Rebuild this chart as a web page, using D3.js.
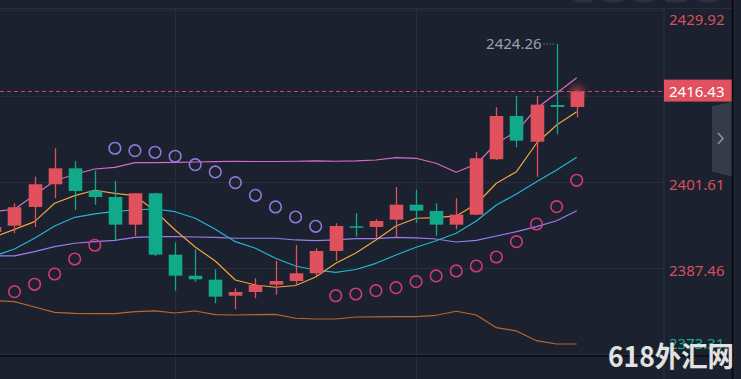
<!DOCTYPE html>
<html>
<head>
<meta charset="utf-8">
<script src="https://cdn.jsdelivr.net/npm/d3@7"></script>
<style>
html,body{margin:0;padding:0;background:#1b212e;overflow:hidden;}
svg{display:block;}
</style>
</head>
<body>
<svg id="chart" width="741" height="379"></svg>
<script>
// ---------- DATA ----------
const candleIndex = d3.range(30);
const opens  = [2393.33,2394.37,2397.45,2401.18,2403.81,2400.13,2399.09,2394.54,2399.70,2389.60,
                2386.14,2385.49,2382.85,2383.46,2384.66,2385.27,2386.54,2390.21,2394.27,2394.16,
                2395.36,2397.83,2396.79,2394.54,2396.18,2405.30,2412.42,2408.19,2414.23,2413.90];
const highs  = [2394.60,2398.06,2402.43,2407.11,2405.02,2403.42,2401.72,2399.75,2399.80,2391.64,
                2390.49,2387.20,2384.07,2385.72,2388.61,2391.20,2390.65,2394.77,2396.41,2395.42,
                2400.74,2400.29,2398.06,2398.88,2406.45,2413.85,2415.71,2415.71,2424.26,2416.60];
const lows   = [2392.90,2393.12,2394.16,2398.88,2396.95,2397.83,2392.02,2392.68,2389.39,2383.68,
                2385.16,2381.60,2380.62,2382.43,2383.02,2384.61,2386.10,2388.61,2392.56,2392.40,
                2392.46,2394.81,2392.73,2393.78,2396.10,2405.18,2407.27,2402.43,2409.41,2412.21];
const closes = [2394.16,2397.40,2401.18,2403.81,2400.08,2399.09,2394.54,2399.70,2389.60,2386.14,
                2385.55,2382.69,2383.46,2384.61,2385.27,2386.54,2390.21,2394.32,2394.16,2395.14,
                2397.83,2396.84,2394.54,2396.18,2405.46,2412.42,2408.36,2414.28,2413.90,2416.43];
const maFast = [2392.51,2393.76,2395.03,2398.06,2399.31,2400.20,2399.70,2399.31,2396.79,2393.66,
                2390.87,2388.56,2385.44,2384.61,2384.24,2384.53,2385.93,2388.18,2389.88,2392.02,
                2394.32,2395.59,2395.69,2395.97,2397.94,2401.35,2403.26,2407.93,2410.94,2413.13];
const maSlow = [2389.39,2390.54,2392.30,2394.32,2395.75,2396.30,2396.71,2396.95,2397.12,2396.67,
                2395.59,2393.78,2391.74,2390.65,2389.01,2387.74,2387.08,2386.70,2387.16,2388.18,
                2389.55,2390.82,2391.90,2393.12,2395.14,2397.78,2399.59,2401.61,2403.53,2405.62];
const bollUpper = [2396.71,2397.07,2399.42,2401.73,2402.83,2403.70,2403.95,2404.74,2404.74,2404.80,
                   2404.85,2404.90,2404.97,2404.93,2404.93,2404.97,2405.02,2404.97,2405.02,2405.18,
                   2405.56,2405.46,2404.64,2403.16,2404.52,2407.93,2409.84,2413.69,2416.15,2418.72];
const bollMid   = [2389.39,2389.39,2390.09,2390.92,2391.48,2391.74,2391.94,2392.46,2392.56,2392.56,
                   2392.51,2392.46,2392.30,2392.30,2392.30,2392.02,2391.90,2392.02,2392.23,2392.23,
                   2392.46,2392.35,2392.18,2391.69,2391.94,2392.68,2393.38,2394.21,2395.19,2396.84];
const bollLower = [2382.06,2381.87,2380.99,2380.12,2379.93,2379.89,2379.89,2380.22,2380.34,2380.01,
                   2380.34,2379.73,2379.68,2379.73,2379.79,2379.14,2379.02,2379.02,2379.35,2379.38,
                   2379.40,2379.40,2379.63,2380.29,2379.68,2377.59,2377.05,2375.45,2374.91,2374.91];
const sar = [null,2383.51,2384.73,2386.42,2388.89,2391.15,2407.11,2406.71,2406.45,2405.79,
             2404.41,2403.21,2401.45,2399.37,2397.45,2395.80,2394.27,2382.85,2383.13,2383.68,
             2384.17,2385.16,2386.10,2386.92,2387.74,2389.22,2391.74,2394.65,2397.50,2401.84];
const tickValues = [2429.92,2415.77,2401.61,2387.46,2373.31];
// the 2415.77 label is covered by the last-price tag in the reference, so only these are shown
const tickLabelValues = [2429.92,2401.61,2387.46,2373.31];
const tickLabels = ["2429.92","2401.61","2387.46","2373.31"];
const lastPrice = 2416.43;
const lastPriceLabel = "2416.43";
const highMarkLabel = "2424.26";
const watermark = "618外汇网";

// ---------- LAYOUT ----------
const W = 741, H = 379;
const plotRight = 663.5;
const C = {
  bg:"#1b212e", grid:"#262e3b", up:"#e0505d", down:"#10a98a",
  orange:"#f4a43c", cyan:"#22b6d4", purple:"#9a7cee", pink:"#d56cc6", brown:"#b8672e",
  sarUp:"#d2387c", sarDown:"#9278dc", axisRed:"#d84f5c", axisGreen:"#14a98b"
};

const svg = d3.select("#chart");
const x = d3.scaleLinear().domain([0, 29]).range([-5.6, 576.7]);
const y = d3.scaleLinear().domain([2373.31, 2429.92]).range([353.7, 9.6]);

svg.append("rect").attr("width", W).attr("height", H).attr("fill", C.bg);

const defs = svg.append("defs");
defs.append("clipPath").attr("id","plotClip").append("rect")
  .attr("x",0).attr("y",8).attr("width",plotRight).attr("height",H-8);
const blur = defs.append("filter").attr("id","glow").attr("x","-100%").attr("y","-100%").attr("width","300%").attr("height","300%");
blur.append("feGaussianBlur").attr("stdDeviation", 3);

// top buttons (partly visible)
const btnX = [[573,594.5],[602.5,625],[633,654.5],[664,687.6],[697,719]];
svg.append("g").selectAll("rect").data(btnX).join("rect")
  .attr("x", d=>d[0]).attr("y", -12).attr("width", d=>d[1]-d[0]).attr("height", 14.5)
  .attr("rx", 5).attr("fill", "#2a313e");

// grid
const grid = svg.append("g");
grid.selectAll("line.h").data(tickValues).join("line")
  .attr("x1",0).attr("x2",plotRight).attr("y1",d=>Math.round(y(d))+0.5).attr("y2",d=>Math.round(y(d))+0.5)
  .attr("stroke",C.grid).attr("stroke-width",1);
svg.append("line").attr("x1",0).attr("x2",733).attr("y1",8.5).attr("y2",8.5).attr("stroke",C.grid);
grid.selectAll("line.v").data([9,21]).join("line")
  .attr("x1",d=>Math.round(x(d))+0.5).attr("x2",d=>Math.round(x(d))+0.5).attr("y1",8).attr("y2",H)
  .attr("stroke",C.grid).attr("stroke-width",1);
svg.append("line").attr("x1",plotRight+0.5).attr("x2",plotRight+0.5).attr("y1",8).attr("y2",H)
  .attr("stroke","#2a3240").attr("stroke-width",1);

const plot = svg.append("g").attr("clip-path","url(#plotClip)");

// Bollinger & MA lines
const lineGen = d3.line().x((d,i)=>x(i)).y(d=>y(d));
[[bollLower,C.brown],[bollMid,C.purple],[bollUpper,C.pink],[maSlow,C.cyan],[maFast,C.orange]].forEach(([arr,col])=>{
  plot.append("path").datum(arr).attr("d",lineGen).attr("fill","none")
    .attr("stroke",col).attr("stroke-width",1.2).attr("stroke-linejoin","round");
});

// candles
const bodyW = 13.6;
const cg = plot.append("g");
const isUp = i => closes[i] >= opens[i];
cg.selectAll("line.wick").data(candleIndex).join("line")
  .attr("x1",i=>Math.round(x(i))+0.5).attr("x2",i=>Math.round(x(i))+0.5)
  .attr("y1",i=>y(highs[i])).attr("y2",i=>y(lows[i]))
  .attr("stroke",i=>isUp(i)?C.up:C.down).attr("stroke-width",1.3);
cg.selectAll("rect.body").data(candleIndex).join("rect")
  .attr("x",i=>Math.round(x(i))+0.5-bodyW/2)
  .attr("width",bodyW)
  .attr("y",i=>y(Math.max(opens[i],closes[i])))
  .attr("height",i=>Math.max(1.5, Math.abs(y(opens[i])-y(closes[i]))))
  .attr("fill",i=>isUp(i)?C.up:C.down);

// glow on last candle
plot.append("circle").attr("cx",x(29)+0.5).attr("cy",y(lastPrice)+1).attr("r",7)
  .attr("fill",C.up).attr("opacity",0.55).attr("filter","url(#glow)");

// SAR circles
const sarData = candleIndex.filter(i=>sar[i]!==null);
plot.append("g").selectAll("circle").data(sarData).join("circle")
  .attr("cx",i=>x(i)).attr("cy",i=>y(sar[i])).attr("r",5.8)
  .attr("fill","none").attr("stroke-width",1.6)
  .attr("stroke",i=>sar[i] > highs[i] ? C.sarDown : C.sarUp);

// last price dashed line
const lpY = Math.round(y(lastPrice)) - 0.5;
svg.append("line").attr("x1",0).attr("x2",plotRight).attr("y1",lpY).attr("y2",lpY)
  .attr("stroke","#d8485a").attr("stroke-width",1).attr("stroke-dasharray","4,3");

// highest annotation
const hiIdx = d3.maxIndex(highs);
svg.append("line").attr("x1",x(hiIdx)-13).attr("x2",x(hiIdx)-1).attr("y1",y(highs[hiIdx])).attr("y2",y(highs[hiIdx]))
  .attr("stroke","#9ca2ad").attr("stroke-width",1).attr("stroke-dasharray","1,2");
svg.append("text").attr("x",x(hiIdx)-15).attr("y",y(highs[hiIdx])+5)
  .attr("text-anchor","end").attr("fill","#9ca2ad")
  .style("font-family","'Noto Sans', 'Open Sans', sans-serif").style("font-size","15px")
  .text(highMarkLabel);

// y axis labels
svg.append("g").selectAll("text").data(tickLabelValues).join("text")
  .attr("x",669).attr("y",d=>Math.max(19, Math.min(343, y(d)+2.5)))
  .attr("dominant-baseline","central")
  .attr("fill",(d,i)=> i===tickLabelValues.length-1 ? C.axisGreen : C.axisRed)
  .style("font-family","'Noto Sans', 'Open Sans', sans-serif").style("font-size","15px")
  .text((d,i)=>tickLabels[i]);

// last price tag
const ly = y(lastPrice) - 1;
svg.append("rect").attr("x",664).attr("y",ly-11).attr("width",68).attr("height",22).attr("fill",C.up);
svg.append("text").attr("x",669).attr("y",ly).attr("dominant-baseline","central").attr("fill","#ffffff")
  .style("font-family","'Noto Sans', 'Open Sans', sans-serif").style("font-size","15px")
  .text(lastPriceLabel);

// side tab
svg.append("path").attr("d","M712,106.5 L732,101.5 L732,176.5 L712,171.5 Z").attr("fill","#353b48");
svg.append("path").attr("d","M718,133 L723,138.5 L718,144").attr("fill","none")
  .attr("stroke","#8f95a0").attr("stroke-width",1.5);

// frame lines
svg.append("line").attr("x1",0).attr("x2",733).attr("y1",356).attr("y2",356).attr("stroke","#0a0d13").attr("stroke-width",1.5);
svg.append("line").attr("x1",732.5).attr("x2",732.5).attr("y1",0).attr("y2",H).attr("stroke","#07090d").attr("stroke-width",1.6);

// watermark
svg.append("text").attr("x",608).attr("y",367)
  .attr("textLength",126).attr("lengthAdjust","spacingAndGlyphs")
  .attr("fill","#e2e2e2").style("font-weight","bold")
  .style("font-family","'Noto Sans CJK SC', sans-serif").style("font-size","28px")
  .text(watermark);
</script>
</body>
</html>
